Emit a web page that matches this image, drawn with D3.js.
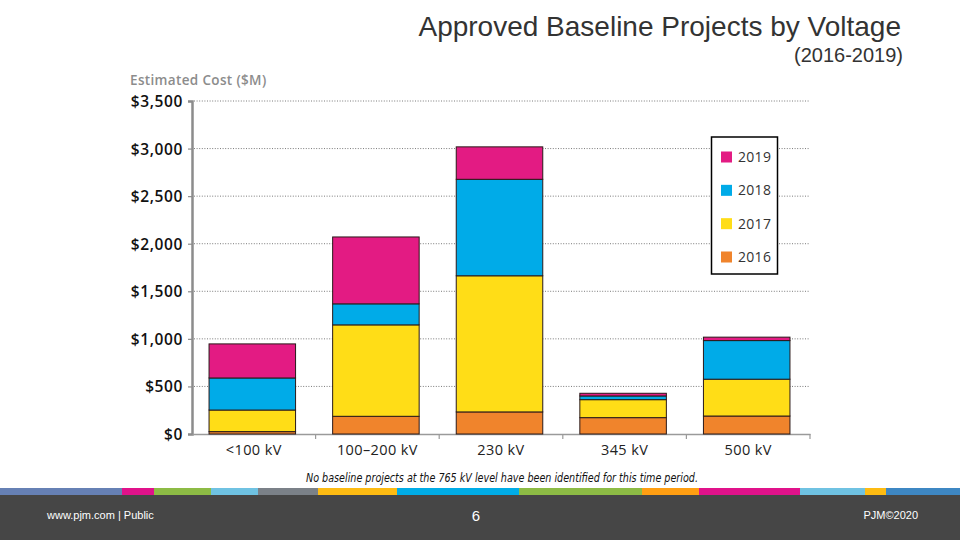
<!DOCTYPE html>
<html>
<head>
<meta charset="utf-8">
<script src="https://cdn.jsdelivr.net/npm/d3@7"></script>
<style>
  html, body { margin: 0; padding: 0; background: #fff; }
  svg { display: block; }
</style>
</head>
<body>
<svg id="chart" width="960" height="540"></svg>
<script>
// ---- Data ----
const categories = ["<100 kV", "100\u2013200 kV", "230 kV", "345 kV", "500 kV"];
const years = ["2016", "2017", "2018", "2019"];
const values2016 = [25, 186, 232, 172, 189];
const values2017 = [227, 961, 1431, 189, 387];
const values2018 = [337, 221, 1014, 39, 406];
const values2019 = [358, 703, 341, 28, 36];
const yTicks = [0, 500, 1000, 1500, 2000, 2500, 3000, 3500];
const yearColors = ["#F0842C", "#FFDD17", "#00ABE8", "#E31B83"];
const stripeColors = ["#6680B4", "#E0128A", "#8DBB45", "#6FC2E2", "#7B8188", "#FDBB12", "#00ACE6", "#8DBB45", "#FF9E12", "#E0128A", "#6FC2E2", "#FDBB12", "#3E87C3"];
const stripeWidths = [122, 32, 57, 47, 60, 79, 122, 123, 57, 101, 65, 21, 74];

const svg = d3.select("#chart");

// ---- Title ----
svg.append("text").attr("x", 901).attr("y", 36).attr("text-anchor", "end")
  .attr("font-family", "Liberation Sans, Arial, sans-serif").attr("font-size", 28)
  .attr("fill", "#333").text("Approved Baseline Projects by Voltage");
svg.append("text").attr("x", 903).attr("y", 62).attr("text-anchor", "end")
  .attr("font-family", "Liberation Sans, Arial, sans-serif").attr("font-size", 20)
  .attr("fill", "#333").text("(2016-2019)");

// ---- Scales ----
const x0 = 192, x1 = 810;
const x = d3.scaleBand().domain(categories).range([x0, x1]).paddingInner(0.3).paddingOuter(0.15);
const y = d3.scaleLinear().domain([0, 3500]).range([434, 101]);
const band = d3.scaleBand().domain(categories).range([x0, x1]);

// gridlines
svg.append("g").selectAll("line").data(yTicks.filter(d => d > 0)).join("line")
  .attr("x1", x0 + 2).attr("x2", x1).attr("y1", d => y(d)).attr("y2", d => y(d))
  .attr("stroke", "#7a7a7a").attr("stroke-width", 1).attr("stroke-dasharray", "1,1.6");

// y axis label
svg.append("text").attr("x", 130).attr("y", 85)
  .attr("font-family", "Open Sans, Lato, sans-serif").attr("font-size", 13.5).attr("font-weight", 600)
  .attr("letter-spacing", 0.35)
  .attr("fill", "#8c8c8c").text("Estimated Cost ($M)");

// y axis
const yAxis = d3.axisLeft(y).tickValues(yTicks).tickSize(4).tickPadding(5)
  .tickFormat(d => "$" + d3.format(",")(d));
const gy = svg.append("g").attr("transform", `translate(${x0},0)`).call(yAxis);
gy.select(".domain").attr("stroke", "#8c8c8c").attr("stroke-width", 2.5);
gy.selectAll(".tick line").attr("stroke", "#8c8c8c").attr("stroke-width", 1.2);
gy.selectAll(".tick text").attr("font-family", "Open Sans, Lato, sans-serif")
  .attr("font-size", 15.5).attr("font-weight", 600).attr("letter-spacing", 0.6)
  .attr("fill", "#111").attr("dy", "0.35em");

// x axis
const xAxis = d3.axisBottom(band).tickSize(0).tickPadding(11);
const gx = svg.append("g").attr("transform", `translate(0,${y(0)})`).call(xAxis);
gx.select(".domain").attr("stroke", "#9a9a9a").attr("stroke-width", 1.5);
gx.selectAll(".tick text").attr("font-family", "Open Sans, Lato, sans-serif")
  .attr("font-size", 14.5).attr("letter-spacing", 0.4).attr("fill", "#222");
// band dividers
svg.append("g").selectAll("line").data(categories.slice(1).concat(["__end"])).join("line")
  .attr("x1", d => d === "__end" ? x1 : band(d)).attr("x2", d => d === "__end" ? x1 : band(d))
  .attr("y1", y(0)).attr("y2", y(0) + 5).attr("stroke", "#9a9a9a").attr("stroke-width", 1.2);

// ---- Stacked bars ----
const table = categories.map((c, i) => ({
  cat: c, "2016": values2016[i], "2017": values2017[i], "2018": values2018[i], "2019": values2019[i]
}));
const stack = d3.stack().keys(years)(table);
const color = d3.scaleOrdinal().domain(years).range(yearColors);
svg.append("g").selectAll("g").data(stack).join("g")
  .attr("fill", d => color(d.key))
  .selectAll("rect").data(d => d).join("rect")
  .attr("x", d => x(d.data.cat) - 1.5).attr("width", x.bandwidth())
  .attr("y", d => y(d[1])).attr("height", d => y(d[0]) - y(d[1]))
  .attr("stroke", "#2a1a1a").attr("stroke-width", 1);

// ---- Legend ----
const lg = svg.append("g");
lg.append("rect").attr("x", 711.5).attr("y", 137).attr("width", 66).attr("height", 137)
  .attr("fill", "#fff").attr("stroke", "#000").attr("stroke-width", 1.5);
const legendYears = years.slice().reverse();
const ly = d3.scalePoint().domain(legendYears).range([157, 257]);
lg.selectAll("rect.sw").data(legendYears).join("rect").attr("class", "sw")
  .attr("x", 721).attr("y", d => ly(d) - 5.5).attr("width", 11).attr("height", 11)
  .attr("fill", d => color(d));
lg.selectAll("text").data(legendYears).join("text")
  .attr("x", 738).attr("y", d => ly(d)).attr("dy", "0.36em")
  .attr("font-family", "Open Sans, Lato, sans-serif").attr("font-size", 14).attr("letter-spacing", 0.3)
  .attr("fill", "#333").text(d => d);

// ---- Note ----
svg.append("text").attr("x", 306).attr("y", 482)
  .attr("font-family", "Liberation Sans Narrow, DejaVu Sans Condensed, sans-serif")
  .attr("font-size", 12).attr("font-style", "italic").attr("fill", "#111")
  .attr("textLength", 392).attr("lengthAdjust", "spacingAndGlyphs")
  .text("No baseline projects at the 765 kV level have been identified for this time period.");

// ---- Footer ----
svg.append("rect").attr("x", 0).attr("y", 495).attr("width", 960).attr("height", 45).attr("fill", "#464646");
let acc = 0;
const stripeData = stripeColors.map((c, i) => { const s = { c, x: acc, w: stripeWidths[i] }; acc += stripeWidths[i]; return s; });
svg.append("g").selectAll("rect").data(stripeData).join("rect")
  .attr("x", d => d.x).attr("y", 488).attr("width", d => d.w + 0.5).attr("height", 7).attr("fill", d => d.c);
svg.append("text").attr("x", 47).attr("y", 519)
  .attr("font-family", "Liberation Sans Narrow, Liberation Sans, sans-serif").attr("font-size", 11)
  .attr("fill", "#fff").text("www.pjm.com | Public");
svg.append("text").attr("x", 476).attr("y", 521).attr("text-anchor", "middle")
  .attr("font-family", "Liberation Sans Narrow, Liberation Sans, sans-serif").attr("font-size", 15)
  .attr("fill", "#fff").text("6");
svg.append("text").attr("x", 918).attr("y", 519).attr("text-anchor", "end")
  .attr("font-family", "Liberation Sans Narrow, Liberation Sans, sans-serif").attr("font-size", 11)
  .attr("fill", "#fff").text("PJM\u00A92020");
</script>
</body>
</html>
